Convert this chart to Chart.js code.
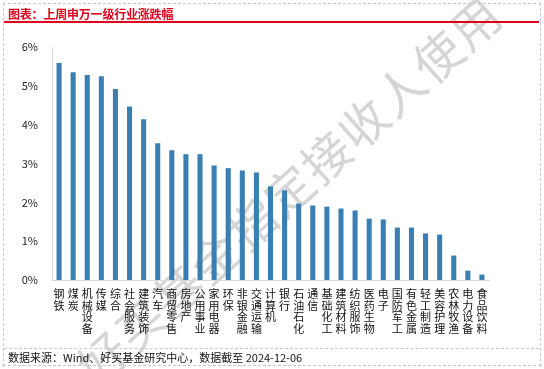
<!DOCTYPE html>
<html>
<head>
<meta charset="utf-8">
<script src="https://cdn.jsdelivr.net/npm/chart.js@4.4.1/dist/chart.umd.min.js"></script>
<style>
  body { margin: 0; background: #fff; }
  #wrap { position: relative; width: 544px; height: 369px; overflow: hidden; }
  #chart { position: absolute; left: 0; top: 0; }
  .frame { position: absolute; left: 3px; top: 3px; width: 536px; height: 361px; border: 1px dashed #c8c8c8; }
  .title { position: absolute; left: 8px; top: 5px; font: bold 12px "Noto Sans CJK SC", sans-serif; color: #e0001b; letter-spacing: -0.2px; }
  .redline { position: absolute; left: 4px; top: 21px; width: 535px; height: 2px; background: #e0001b; }
  .footline { position: absolute; left: 4px; top: 348px; width: 535px; border-top: 1px dashed #c8c8c8; }
  .foot { position: absolute; left: 8px; top: 349px; font: 11px "Noto Sans CJK SC", sans-serif; color: #111; }
</style>
</head>
<body>
<div id="wrap">
  <canvas id="chart" width="544" height="369"></canvas>
  <div class="frame"></div>
  <div class="title">图表：上周申万一级行业涨跌幅</div>
  <div class="redline"></div>
  <div class="footline"></div>
  <div class="foot">数据来源：Wind、好买基金研究中心，数据截至 2024-12-06</div>
</div>
<script>
  // categories and weekly change (%)
  const industries = [
    '钢铁', '煤炭', '机械设备', '传媒', '综合', '社会服务', '建筑装饰', '汽车',
    '商贸零售', '房地产', '公用事业', '家用电器', '环保', '非银金融', '交通运输', '计算机',
    '银行', '石油石化', '通信', '基础化工', '建筑材料', '纺织服饰', '医药生物', '电子',
    '国防军工', '有色金属', '轻工制造', '美容护理', '农林牧渔', '电力设备', '食品饮料'
  ];
  const changes = [
    5.59, 5.35, 5.28, 5.25, 4.92, 4.47, 4.14, 3.52,
    3.34, 3.24, 3.24, 2.95, 2.88, 2.82, 2.77, 2.41,
    2.31, 1.97, 1.92, 1.89, 1.84, 1.79, 1.58, 1.56,
    1.35, 1.35, 1.20, 1.17, 0.63, 0.24, 0.14
  ];
  const yTicks = [0, 1, 2, 3, 4, 5, 6];

  const watermarkText = '好买基金指定接收人使用';

  // faint diagonal watermark behind the chart
  const watermark = {
    id: 'watermark',
    beforeDraw(chart) {
      const ctx = chart.ctx;
      ctx.save();
      ctx.translate(290, 190);
      ctx.rotate(-42 * Math.PI / 180);
      ctx.font = '48px "Noto Sans CJK SC"';
      ctx.fillStyle = 'rgba(195,195,195,0.7)';
      ctx.textAlign = 'center';
      ctx.textBaseline = 'middle';
      ctx.letterSpacing = '2px';
      ctx.fillText(watermarkText, 0, 0);
      ctx.restore();
    }
  };

  new Chart(document.getElementById('chart'), {
    type: 'bar',
    data: {
      labels: industries.map(s => s.split('')),
      datasets: [{
        data: changes,
        backgroundColor: '#3b7fb2',
        barPercentage: 0.36,
        categoryPercentage: 1
      }]
    },
    options: {
      responsive: false,
      animation: false,
      layout: { padding: { left: 0, right: 55, top: 47, bottom: 29 } },
      plugins: { legend: { display: false }, tooltip: { enabled: false } },
      scales: {
        x: {
          grid: { display: false },
          border: { color: '#d9d9d9' },
          ticks: {
            color: '#111',
            font: { family: 'Noto Sans CJK SC', size: 11, lineHeight: 1.05 },
            maxRotation: 0,
            autoSkip: false,
            padding: 0
          },
          afterFit(scale) { scale.height = 60; }
        },
        y: {
          min: 0,
          max: 6,
          afterBuildTicks(scale) { scale.ticks = yTicks.map(v => ({ value: v })); },
          grid: { display: false },
          border: { color: '#d9d9d9' },
          ticks: {
            color: '#222',
            font: { family: 'Noto Sans CJK SC', size: 11 },
            padding: 6,
            callback: v => v + '%'
          },
          afterFit(scale) { scale.width = 52; }
        }
      }
    },
    plugins: [watermark]
  });
</script>
</body>
</html>
